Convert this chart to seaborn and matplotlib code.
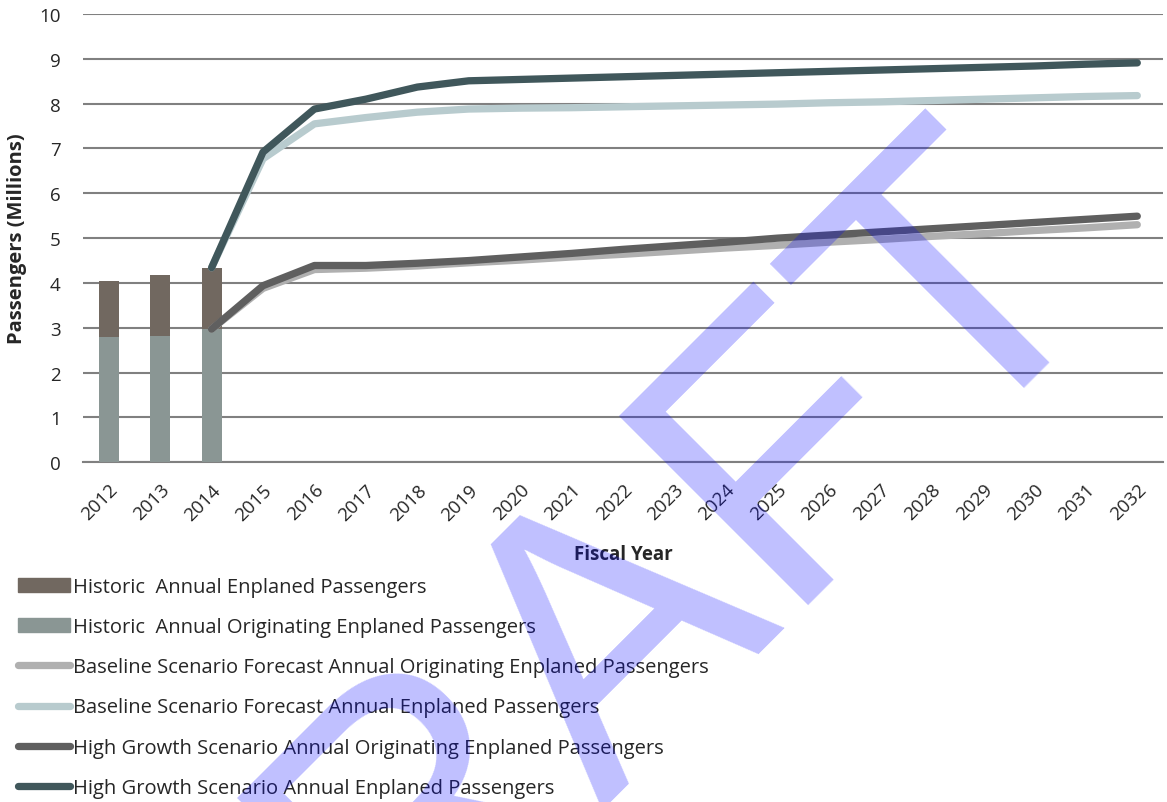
"""Passenger forecast: historic bars + scenario lines, with DRAFT watermark"""
import matplotlib
matplotlib.use("Agg")
import matplotlib.pyplot as plt
import numpy as np
import pandas as pd
import seaborn as sns
from matplotlib.lines import Line2D
from matplotlib.patches import Patch

years = list(range(2012, 2033))

hist_years = [2012, 2013, 2014]
hist_enplaned = [4.05, 4.18, 4.34]
hist_originating = [2.79, 2.82, 2.97]

fc_years = list(range(2014, 2033))
base_orig = [2.97, 3.88, 4.30, 4.33, 4.38, 4.45, 4.51, 4.58, 4.64, 4.71,
             4.78, 4.84, 4.91, 4.97, 5.04, 5.10, 5.17, 5.23, 5.30]
base_enpl = [4.34, 6.77, 7.55, 7.69, 7.81, 7.88, 7.90, 7.91, 7.93, 7.95,
             7.97, 7.99, 8.02, 8.04, 8.07, 8.10, 8.13, 8.16, 8.18]
high_orig = [2.97, 3.94, 4.39, 4.39, 4.44, 4.50, 4.58, 4.66, 4.75, 4.83,
             4.91, 5.00, 5.07, 5.14, 5.21, 5.28, 5.35, 5.42, 5.49]
high_enpl = [4.34, 6.92, 7.88, 8.10, 8.37, 8.51, 8.54, 8.57, 8.60, 8.63,
             8.66, 8.69, 8.72, 8.75, 8.78, 8.81, 8.84, 8.88, 8.91]

labels = [
    "Historic  Annual Enplaned Passengers",
    "Historic  Annual Originating Enplaned Passengers",
    "Baseline Scenario Forecast Annual Originating Enplaned Passengers",
    "Baseline Scenario Forecast Annual Enplaned Passengers",
    "High Growth Scenario Annual Originating Enplaned Passengers",
    "High Growth Scenario Annual Enplaned Passengers",
]
colors = ["#716860", "#8A9694", "#B0B0B0", "#B8CBCE", "#5F5F5F", "#40575B"]

sns.set_style("white")
plt.rcParams["font.family"] = ["Open Sans", "DejaVu Sans"]

fig = plt.figure(figsize=(11.67, 8.03), dpi=100)
ax = fig.add_axes([83 / 1167, 1 - 463.3 / 803, 1080 / 1167, 448.3 / 803])

order = [str(y) for y in years]
hist = pd.DataFrame({"Year": [str(y) for y in hist_years],
                     "Enplaned": hist_enplaned,
                     "Originating": hist_originating})
sns.barplot(data=hist, x="Year", y="Enplaned", order=order, color=colors[0],
            width=0.39, saturation=1, linewidth=0, ax=ax, zorder=3)
sns.barplot(data=hist, x="Year", y="Originating", order=order, color=colors[1],
            width=0.39, saturation=1, linewidth=0, ax=ax, zorder=3)

pos = [years.index(y) for y in fc_years]
for vals, col in zip([base_orig, base_enpl, high_orig, high_enpl], colors[2:]):
    sns.lineplot(x=pos, y=vals, color=col, linewidth=5.25, ax=ax,
                 solid_capstyle="round", zorder=4)

ax.set_xlim(-0.5, len(years) - 0.5)
ax.set_ylim(0, 10)
ax.set_yticks(range(0, 11))
ax.set_xticks(range(len(years)))
ax.set_xticklabels(order, rotation=45, ha="right", rotation_mode="anchor",
                   fontsize=13.5)
ax.set_xticks(np.arange(-0.5, len(years)), minor=True)
ax.tick_params(axis="x", which="major", length=0, pad=13)
ax.tick_params(axis="x", which="minor", length=6, width=1.5, color="#808080",
               direction="out")
ax.tick_params(axis="y", length=6, width=1.5, color="#808080", labelsize=13.5,
               direction="out", pad=10)
ax.grid(axis="y", color="#808080", linewidth=1.5, zorder=0)
ax.set_axisbelow(True)
for side in ["left", "right", "top"]:
    ax.spines[side].set_visible(False)
ax.spines["bottom"].set_color("#808080")
ax.spines["bottom"].set_linewidth(1.5)

ax.set_xlabel("Fiscal Year", fontsize=13.5, fontweight="bold")
ax.xaxis.set_label_coords(0.5, -(545 - 463.3) / 448.3)
ax.set_ylabel("Passengers (Millions)", fontsize=14.5, fontweight="bold")
ax.yaxis.set_label_coords(-(83 - 27) / 1080, 0.5)

handles = [Patch(color=colors[0]), Patch(color=colors[1])] + [
    Line2D([], [], color=c, linewidth=5.25, solid_capstyle="round")
    for c in colors[2:]]
fig.legend(handles, labels, loc="upper left",
           bbox_to_anchor=(18 / 1167, 1 - 578 / 803), frameon=False,
           fontsize=14.5, handlelength=2.6, handleheight=0.63,
           handletextpad=0.15, labelspacing=1.0, borderpad=0,
           borderaxespad=0)

fig.text(654 / 1167, 1 - 726 / 803, "DRAFT", fontsize=280,
         family="Liberation Sans", color=(0, 0, 1), alpha=0.25, rotation=45,
         rotation_mode="anchor", ha="center", va="baseline", zorder=10)

fig.savefig("out.png", dpi=100)
